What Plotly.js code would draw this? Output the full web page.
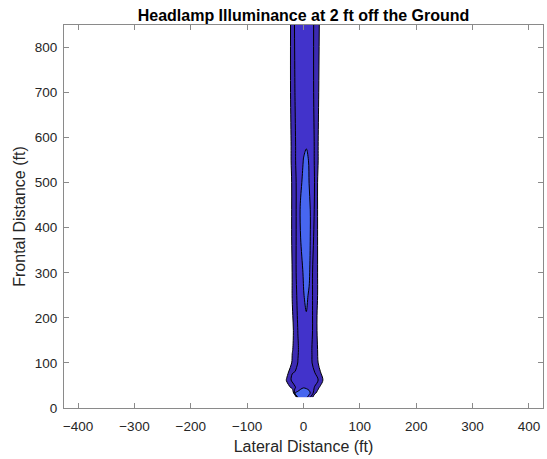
<!DOCTYPE html>
<html>
<head>
<meta charset="utf-8">
<script src="https://cdn.plot.ly/plotly-3.0.1.min.js"></script>
<style>html,body{margin:0;padding:0;background:#fff;}#chart{width:547px;height:459px;}</style>
</head>
<body>
<div id="chart"></div>
<script>
// Lateral grid positions (ft)
const lateralFt = [-425, -50, -40, -30, -20, -15, -10, -5, 0, 5, 10, 15, 20, 30, 40, 50, 425];
// Frontal grid positions (ft)
const frontalFt = [24, 33, 45, 62, 80, 100, 130, 172, 205, 250, 300, 380, 440, 500, 550, 580, 700, 850];
// Illuminance estimates (one row per frontal distance)
const lux024 = [0,0,0,0,-1,-1,3.1,3.4,3.5,3.3,2.5,1.4,0,0,0,0,0];
const lux033 = [0,0,0,0,-1,3.02,3.3,3.5,3.55,3.5,3.3,2.5,1.25,0,0,0,0];
const lux045 = [0,0,0,0,1.35,1.9,2.4,2.8,2.98,2.9,2.7,2.3,1.925,0.71,0,0,0];
const lux062 = [0,0,0,1.11,2.22,2.4,2.5,2.6,2.7,2.7,2.6,2.5,2.3,1.8,0,0,0];
const lux080 = [0,0,0,0.5,1.93,2.02,2.3,2.5,2.7,2.7,2.6,2.3,1.98,1.02,0,0,0];
const lux100 = [0,0,0,0,1.11,1.6,2.02,2.4,2.7,2.75,2.6,2.02,1.6,0.6,0,0,0];
const lux130 = [0,0,0,0,0.95,1.2,1.9,2.4,2.7,2.75,2.6,1.98,1.5,0.5,0,0,0];
const lux172 = [0,0,0,0,0.9,1.15,2.02,2.5,2.75,2.8,2.7,2.15,1.4,0.4,0,0,0];
const lux205 = [0,0,0,0,0.95,1.2,2.2,2.6,2.85,2.95,2.8,2.15,1.4,0.4,0,0,0];
const lux250 = [0,0,0,0,1.02,1.8,2.133,2.6,2.95,3.2,2.867,2.1,1.6,0.4,0,0,0];
const lux300 = [0,0,0,0,1.02,1.8,2.3,2.7,3.075,3.3,3.2,2.2,1.2,0.8,0,0,0];
const lux380 = [0,0,0,0,1.11,1.8,2.3,3.02,3.5,3.5,3.35,2.475,1.68,0.32,0,0,0];
const lux440 = [0,0,0,0,1.11,1.8,2.3,3.175,3.6,3.6,3.4,2.4,1.9,0.1,0,0,0];
const lux500 = [0,0,0,0,1.11,1.8,2.3,2.8,3.3,3.4,2.98,2.5,1.944,0.06,0,0,0];
const lux550 = [0,0,0,0,1.25,1.9,2.4,2.75,3.02,3.15,2.95,2.5,1.875,0.42,0,0,0];
const lux580 = [0,0,0,0,1.25,1.9,2.4,2.7,2.9,2.97,2.9,2.5,1.875,0.42,0,0,0];
const lux700 = [0,0,0,0,1.43,2.02,2.5,2.75,2.85,2.85,2.8,2.45,1.7,0.7,0,0,0];
const lux850 = [0,0,0,0,1.43,2.14,2.5,2.7,2.8,2.8,2.75,2.4,1.73,0.82,0,0,0];
// Contour levels
const levels = [1, 2, 3];
// Tick values
const xTicks = [-400, -300, -200, -100, 0, 100, 200, 300, 400];
const yTicks = [0, 100, 200, 300, 400, 500, 600, 700, 800];

const zGrid = [lux024, lux033, lux045, lux062, lux080, lux100, lux130, lux172, lux205,
               lux250, lux300, lux380, lux440, lux500, lux550, lux580, lux700, lux850];

const c1 = '#3C2AB2', c2 = '#4233CB', c3 = '#4766F0';
const trace = {
  type: 'contour',
  x: lateralFt,
  y: frontalFt,
  z: zGrid,
  autocontour: false,
  contours: {start: levels[0], end: levels[levels.length - 1], size: levels[1] - levels[0], coloring: 'fill', showlines: true},
  colorscale: [[0, 'rgb(255,255,255)'], [0.17, 'rgb(255,255,255)'], [0.17, c1], [0.5, c1], [0.5, c2], [0.83, c2], [0.83, c3], [1, c3]],
  line: {color: '#000000', width: 1, smoothing: 1},
  showscale: false,
  hoverinfo: 'skip'
};

const axisCommon = {
  ticks: 'inside', ticklen: 5, tickwidth: 1, tickcolor: '#8a8a8a',
  showline: true, linecolor: '#8a8a8a', linewidth: 1, mirror: 'ticks',
  showgrid: false, zeroline: false,
  tickfont: {size: 13.5, color: '#262626'}
};

const layout = {
  width: 547, height: 459,
  margin: {l: 64, r: 4, t: 25, b: 51},
  paper_bgcolor: '#ffffff', plot_bgcolor: '#ffffff',
  font: {family: 'Liberation Sans, Arial, Helvetica, sans-serif', size: 14, color: '#262626'},
  showlegend: false,
  title: {text: '<b>Headlamp Illuminance at 2 ft off the Ground</b>', font: {size: 16, color: '#000000'},
          x: 0.5, xref: 'paper', xanchor: 'center', y: 1 - 15 / 459, yref: 'container', yanchor: 'middle'},
  xaxis: Object.assign({}, axisCommon, {range: [-425, 425], tickvals: xTicks, ticklabelstandoff: 6,
          title: {text: 'Lateral Distance (ft)', font: {size: 16, color: '#262626'}, standoff: 7}}),
  yaxis: Object.assign({}, axisCommon, {range: [0, 850], tickvals: yTicks, ticklabelstandoff: 3,
          title: {text: 'Frontal Distance (ft)', font: {size: 16, color: '#262626'}, standoff: 5}})
};

Plotly.newPlot('chart', [trace], layout, {staticPlot: true, displayModeBar: false});
</script>
</body>
</html>
